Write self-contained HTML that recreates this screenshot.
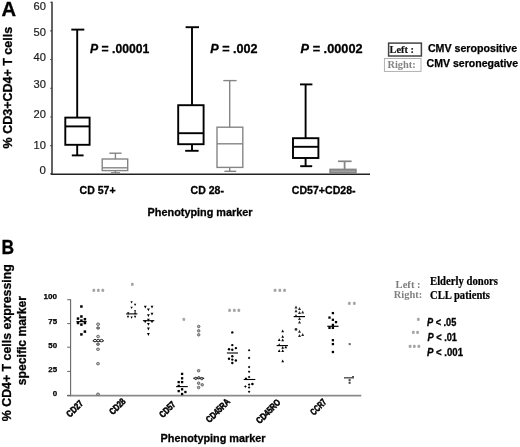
<!DOCTYPE html>
<html lang="en"><head><meta charset="utf-8"><title>Figure</title>
<style>
html,body{margin:0;padding:0;background:#fff;}
body{width:520px;height:447px;overflow:hidden;}
svg{display:block;}
</style></head><body>
<svg width="520" height="447" viewBox="0 0 520 447">
<rect x="0" y="0" width="520" height="447" fill="#fff"/>
<text x="1.6" y="15.6" font-family='"Liberation Sans", Arial, Helvetica, sans-serif' font-size="19.5" font-weight="bold" fill="#000" text-anchor="start" textLength="14.6" lengthAdjust="spacingAndGlyphs" stroke="#000" stroke-width="0.3">A</text>
<line x1="52" y1="1.8" x2="52" y2="174.8" stroke="#3c3c3c" stroke-width="1.6" stroke-linecap="butt"/>
<line x1="50.8" y1="174.25" x2="370" y2="174.25" stroke="#222" stroke-width="1.3" stroke-linecap="butt"/>
<line x1="50.3" y1="2.3" x2="52" y2="2.3" stroke="#3c3c3c" stroke-width="1.1" stroke-linecap="butt"/>
<text x="45.9" y="10.3" font-family='"Liberation Sans", Arial, Helvetica, sans-serif' font-size="11.2" font-weight="normal" fill="#1c1c1c" text-anchor="end" textLength="12.4" lengthAdjust="spacingAndGlyphs" stroke="#1c1c1c" stroke-width="0.2">60</text>
<line x1="50.3" y1="30.9" x2="52" y2="30.9" stroke="#3c3c3c" stroke-width="1.1" stroke-linecap="butt"/>
<text x="45.9" y="35.9" font-family='"Liberation Sans", Arial, Helvetica, sans-serif' font-size="11.2" font-weight="normal" fill="#1c1c1c" text-anchor="end" textLength="12.4" lengthAdjust="spacingAndGlyphs" stroke="#1c1c1c" stroke-width="0.2">50</text>
<line x1="50.3" y1="59.5" x2="52" y2="59.5" stroke="#3c3c3c" stroke-width="1.1" stroke-linecap="butt"/>
<text x="45.9" y="60.9" font-family='"Liberation Sans", Arial, Helvetica, sans-serif' font-size="11.2" font-weight="normal" fill="#1c1c1c" text-anchor="end" textLength="12.4" lengthAdjust="spacingAndGlyphs" stroke="#1c1c1c" stroke-width="0.2">40</text>
<line x1="50.3" y1="88.2" x2="52" y2="88.2" stroke="#3c3c3c" stroke-width="1.1" stroke-linecap="butt"/>
<text x="45.9" y="87.7" font-family='"Liberation Sans", Arial, Helvetica, sans-serif' font-size="11.2" font-weight="normal" fill="#1c1c1c" text-anchor="end" textLength="12.4" lengthAdjust="spacingAndGlyphs" stroke="#1c1c1c" stroke-width="0.2">30</text>
<line x1="50.3" y1="117" x2="52" y2="117" stroke="#3c3c3c" stroke-width="1.1" stroke-linecap="butt"/>
<text x="45.9" y="118.2" font-family='"Liberation Sans", Arial, Helvetica, sans-serif' font-size="11.2" font-weight="normal" fill="#1c1c1c" text-anchor="end" textLength="12.4" lengthAdjust="spacingAndGlyphs" stroke="#1c1c1c" stroke-width="0.2">20</text>
<line x1="50.3" y1="145.6" x2="52" y2="145.6" stroke="#3c3c3c" stroke-width="1.1" stroke-linecap="butt"/>
<text x="45.9" y="148.5" font-family='"Liberation Sans", Arial, Helvetica, sans-serif' font-size="11.2" font-weight="normal" fill="#1c1c1c" text-anchor="end" textLength="12.4" lengthAdjust="spacingAndGlyphs" stroke="#1c1c1c" stroke-width="0.2">10</text>
<line x1="50.3" y1="173.8" x2="52" y2="173.8" stroke="#3c3c3c" stroke-width="1.1" stroke-linecap="butt"/>
<text x="45.9" y="173.9" font-family='"Liberation Sans", Arial, Helvetica, sans-serif' font-size="11.2" font-weight="normal" fill="#1c1c1c" text-anchor="end" textLength="6.4" lengthAdjust="spacingAndGlyphs" stroke="#1c1c1c" stroke-width="0.2">0</text>
<text transform="translate(12.3,148.4) rotate(-90)" font-family='"Liberation Sans", Arial, Helvetica, sans-serif' font-size="13.4" font-weight="bold" stroke="#000" stroke-width="0.3" textLength="121.5" lengthAdjust="spacingAndGlyphs">% CD3+CD4+ T cells</text>
<rect x="65.3" y="117.6" width="24.299999999999997" height="27.200000000000017" stroke="#000" stroke-width="1.9" fill="none"/>
<line x1="65.3" y1="126.4" x2="89.6" y2="126.4" stroke="#000" stroke-width="1.9" stroke-linecap="butt"/>
<line x1="77.2" y1="29.6" x2="77.2" y2="117.6" stroke="#000" stroke-width="1.9" stroke-linecap="butt"/>
<line x1="77.2" y1="144.8" x2="77.2" y2="155.4" stroke="#000" stroke-width="1.9" stroke-linecap="butt"/>
<line x1="71.3" y1="29.6" x2="84.3" y2="29.6" stroke="#000" stroke-width="1.9" stroke-linecap="butt"/>
<line x1="71.8" y1="155.4" x2="83.6" y2="155.4" stroke="#000" stroke-width="1.9" stroke-linecap="butt"/>
<rect x="102.2" y="159" width="25.5" height="11.599999999999994" stroke="#858585" stroke-width="1.4" fill="none"/>
<line x1="102.2" y1="167.8" x2="127.7" y2="167.8" stroke="#858585" stroke-width="1.4" stroke-linecap="butt"/>
<line x1="115.4" y1="153.2" x2="115.4" y2="159" stroke="#858585" stroke-width="1.4" stroke-linecap="butt"/>
<line x1="115.4" y1="170.6" x2="115.4" y2="172.8" stroke="#858585" stroke-width="1.4" stroke-linecap="butt"/>
<line x1="109.3" y1="153.2" x2="121.6" y2="153.2" stroke="#858585" stroke-width="1.4" stroke-linecap="butt"/>
<line x1="111" y1="172.8" x2="120" y2="172.8" stroke="#858585" stroke-width="1.4" stroke-linecap="butt"/>
<rect x="178.2" y="105.2" width="25.400000000000006" height="38.999999999999986" stroke="#000" stroke-width="1.9" fill="none"/>
<line x1="178.2" y1="133.2" x2="203.6" y2="133.2" stroke="#000" stroke-width="1.9" stroke-linecap="butt"/>
<line x1="192" y1="27.2" x2="192" y2="105.2" stroke="#000" stroke-width="1.9" stroke-linecap="butt"/>
<line x1="192" y1="144.2" x2="192" y2="150.8" stroke="#000" stroke-width="1.9" stroke-linecap="butt"/>
<line x1="185.6" y1="27.2" x2="199" y2="27.2" stroke="#000" stroke-width="1.9" stroke-linecap="butt"/>
<line x1="185.2" y1="150.8" x2="198.6" y2="150.8" stroke="#000" stroke-width="1.9" stroke-linecap="butt"/>
<rect x="217" y="127.2" width="25.80000000000001" height="40.2" stroke="#858585" stroke-width="1.4" fill="none"/>
<line x1="217" y1="143.8" x2="242.8" y2="143.8" stroke="#858585" stroke-width="1.4" stroke-linecap="butt"/>
<line x1="229.7" y1="80.6" x2="229.7" y2="127.2" stroke="#858585" stroke-width="1.4" stroke-linecap="butt"/>
<line x1="229.7" y1="167.4" x2="229.7" y2="171.3" stroke="#858585" stroke-width="1.4" stroke-linecap="butt"/>
<line x1="223.3" y1="80.6" x2="236.6" y2="80.6" stroke="#858585" stroke-width="1.4" stroke-linecap="butt"/>
<line x1="224.4" y1="171.3" x2="236.2" y2="171.3" stroke="#858585" stroke-width="1.4" stroke-linecap="butt"/>
<rect x="293" y="138.2" width="25.399999999999977" height="19.80000000000001" stroke="#000" stroke-width="1.9" fill="none"/>
<line x1="293" y1="146.8" x2="318.4" y2="146.8" stroke="#000" stroke-width="1.9" stroke-linecap="butt"/>
<line x1="305.6" y1="84.4" x2="305.6" y2="138.2" stroke="#000" stroke-width="1.9" stroke-linecap="butt"/>
<line x1="305.6" y1="158" x2="305.6" y2="166.2" stroke="#000" stroke-width="1.9" stroke-linecap="butt"/>
<line x1="300" y1="84.4" x2="312.4" y2="84.4" stroke="#000" stroke-width="1.9" stroke-linecap="butt"/>
<line x1="300.2" y1="166.2" x2="312.2" y2="166.2" stroke="#000" stroke-width="1.9" stroke-linecap="butt"/>
<rect x="329.3" y="168.6" width="27.4" height="5.4" fill="#858585"/>
<line x1="331" y1="171.2" x2="355" y2="171.2" stroke="#b5b5b5" stroke-width="0.9" stroke-linecap="butt"/>
<line x1="344.6" y1="161.3" x2="344.6" y2="169" stroke="#858585" stroke-width="1.8" stroke-linecap="butt"/>
<line x1="338" y1="161.3" x2="351.6" y2="161.3" stroke="#858585" stroke-width="1.7" stroke-linecap="butt"/>
<text x="90" y="52.6" font-family='"Liberation Sans", Arial, Helvetica, sans-serif' font-size="12.6" font-weight="bold" stroke="#000" stroke-width="0.3" textLength="59.3" lengthAdjust="spacingAndGlyphs"><tspan font-style="italic">P</tspan> = .00001</text>
<text x="210.2" y="52.6" font-family='"Liberation Sans", Arial, Helvetica, sans-serif' font-size="12.6" font-weight="bold" stroke="#000" stroke-width="0.3" textLength="47.4" lengthAdjust="spacingAndGlyphs"><tspan font-style="italic">P</tspan> = .002</text>
<text x="300.6" y="52.6" font-family='"Liberation Sans", Arial, Helvetica, sans-serif' font-size="12.6" font-weight="bold" stroke="#000" stroke-width="0.3" textLength="62" lengthAdjust="spacingAndGlyphs"><tspan font-style="italic">P</tspan> =  .00002</text>
<text x="79.6" y="193.9" font-family='"Liberation Sans", Arial, Helvetica, sans-serif' font-size="11.2" font-weight="bold" fill="#000" text-anchor="start" textLength="36" lengthAdjust="spacingAndGlyphs" stroke="#000" stroke-width="0.3">CD 57+</text>
<text x="190.6" y="193.9" font-family='"Liberation Sans", Arial, Helvetica, sans-serif' font-size="11.2" font-weight="bold" fill="#000" text-anchor="start" textLength="33.4" lengthAdjust="spacingAndGlyphs" stroke="#000" stroke-width="0.3">CD 28-</text>
<text x="291.8" y="193.9" font-family='"Liberation Sans", Arial, Helvetica, sans-serif' font-size="11.2" font-weight="bold" fill="#000" text-anchor="start" textLength="63.8" lengthAdjust="spacingAndGlyphs" stroke="#000" stroke-width="0.3">CD57+CD28-</text>
<text x="147.6" y="215.6" font-family='"Liberation Sans", Arial, Helvetica, sans-serif' font-size="11.2" font-weight="bold" fill="#000" text-anchor="start" textLength="105" lengthAdjust="spacingAndGlyphs" stroke="#000" stroke-width="0.3">Phenotyping marker</text>
<rect x="388.6" y="43.1" width="32.8" height="12.9" stroke="#444" stroke-width="1.5" fill="none"/>
<text x="389.6" y="53.3" font-family='"Liberation Serif", "Times New Roman", serif' font-size="10.5" font-weight="bold" fill="#111" text-anchor="start" textLength="24.4" lengthAdjust="spacingAndGlyphs" stroke="#111" stroke-width="0.2">Left :</text>
<rect x="384.4" y="58.5" width="36.6" height="12.9" stroke="#aaa" stroke-width="0.9" fill="none"/>
<text x="387.4" y="68.3" font-family='"Liberation Serif", "Times New Roman", serif' font-size="10.5" font-weight="bold" fill="#838383" text-anchor="start" textLength="28.4" lengthAdjust="spacingAndGlyphs">Right:</text>
<text x="427.9" y="51.7" font-family='"Liberation Sans", Arial, Helvetica, sans-serif' font-size="10.9" font-weight="bold" fill="#000" text-anchor="start" textLength="89.3" lengthAdjust="spacingAndGlyphs" stroke="#000" stroke-width="0.25">CMV seropositive</text>
<text x="426.6" y="66.8" font-family='"Liberation Sans", Arial, Helvetica, sans-serif' font-size="10.9" font-weight="bold" fill="#000" text-anchor="start" textLength="91.5" lengthAdjust="spacingAndGlyphs" stroke="#000" stroke-width="0.25">CMV seronegative</text>
<text x="1.5" y="253.6" font-family='"Liberation Sans", Arial, Helvetica, sans-serif' font-size="19.5" font-weight="bold" fill="#000" text-anchor="start" textLength="12.6" lengthAdjust="spacingAndGlyphs" stroke="#000" stroke-width="0.3">B</text>
<line x1="70.6" y1="299.2" x2="70.6" y2="396.2" stroke="#666" stroke-width="1.1" stroke-linecap="butt"/>
<line x1="67.2" y1="395.7" x2="361.3" y2="395.7" stroke="#8a8a8a" stroke-width="1.8" stroke-linecap="butt"/>
<line x1="67.2" y1="299.7" x2="70.6" y2="299.7" stroke="#666" stroke-width="1.0" stroke-linecap="butt"/>
<text x="57.1" y="299.3" font-family='"Liberation Sans", Arial, Helvetica, sans-serif' font-size="8" font-weight="bold" fill="#000" text-anchor="end" textLength="13.5" lengthAdjust="spacingAndGlyphs" stroke="#000" stroke-width="0.25">100</text>
<line x1="67.2" y1="323.6" x2="70.6" y2="323.6" stroke="#666" stroke-width="1.0" stroke-linecap="butt"/>
<text x="57.1" y="323.6" font-family='"Liberation Sans", Arial, Helvetica, sans-serif' font-size="8" font-weight="bold" fill="#000" text-anchor="end" textLength="8.8" lengthAdjust="spacingAndGlyphs" stroke="#000" stroke-width="0.25">75</text>
<line x1="67.2" y1="347.2" x2="70.6" y2="347.2" stroke="#666" stroke-width="1.0" stroke-linecap="butt"/>
<text x="57.1" y="348.3" font-family='"Liberation Sans", Arial, Helvetica, sans-serif' font-size="8" font-weight="bold" fill="#000" text-anchor="end" textLength="8.8" lengthAdjust="spacingAndGlyphs" stroke="#000" stroke-width="0.25">50</text>
<line x1="67.2" y1="371.4" x2="70.6" y2="371.4" stroke="#666" stroke-width="1.0" stroke-linecap="butt"/>
<text x="57.1" y="371.9" font-family='"Liberation Sans", Arial, Helvetica, sans-serif' font-size="8" font-weight="bold" fill="#000" text-anchor="end" textLength="8.8" lengthAdjust="spacingAndGlyphs" stroke="#000" stroke-width="0.25">25</text>
<line x1="67.2" y1="395.5" x2="70.6" y2="395.5" stroke="#666" stroke-width="1.0" stroke-linecap="butt"/>
<text x="57.1" y="396" font-family='"Liberation Sans", Arial, Helvetica, sans-serif' font-size="8" font-weight="bold" fill="#000" text-anchor="end" textLength="4.4" lengthAdjust="spacingAndGlyphs" stroke="#000" stroke-width="0.25">0</text>
<text transform="translate(10.6,421.2) rotate(-90)" font-family='"Liberation Sans", Arial, Helvetica, sans-serif' font-size="12.2" font-weight="bold" stroke="#000" stroke-width="0.3" textLength="157" lengthAdjust="spacingAndGlyphs">% CD4+ T cells expressing</text>
<text transform="translate(25.8,385.2) rotate(-90)" font-family='"Liberation Sans", Arial, Helvetica, sans-serif' font-size="12.2" font-weight="bold" stroke="#000" stroke-width="0.3" textLength="89.2" lengthAdjust="spacingAndGlyphs">specific marker</text>
<rect x="80.15" y="305.25" width="2.5" height="2.5" fill="#000"/>
<rect x="80.15" y="315.25" width="2.5" height="2.5" fill="#000"/>
<rect x="76.75" y="317.35" width="2.5" height="2.5" fill="#000"/>
<rect x="83.65" y="317.95" width="2.5" height="2.5" fill="#000"/>
<rect x="80.15" y="319.35" width="2.5" height="2.5" fill="#000"/>
<rect x="76.75" y="321.75" width="2.5" height="2.5" fill="#000"/>
<rect x="83.65" y="321.75" width="2.5" height="2.5" fill="#000"/>
<rect x="80.15" y="323.35" width="2.5" height="2.5" fill="#000"/>
<rect x="83.65" y="330.35" width="2.5" height="2.5" fill="#000"/>
<rect x="80.15" y="333.15" width="2.5" height="2.5" fill="#000"/>
<line x1="76.4" y1="321.6" x2="86.6" y2="321.6" stroke="#000" stroke-width="1.1" stroke-linecap="butt"/>
<text x="92.48 96.88 101.48" y="294.24" font-family='"Liberation Sans", Arial, Helvetica, sans-serif' font-size="6.8" font-weight="bold" fill="#9a9a9a" stroke="#9a9a9a" stroke-width="0.4">***</text>
<ellipse cx="98.1" cy="324.2" rx="1.51" ry="1.22" fill="#c4c4c4" stroke="#5c5c5c" stroke-width="0.85"/>
<ellipse cx="98.1" cy="336.5" rx="1.51" ry="1.22" fill="#c4c4c4" stroke="#5c5c5c" stroke-width="0.85"/>
<ellipse cx="98" cy="349.3" rx="1.51" ry="1.22" fill="#c4c4c4" stroke="#5c5c5c" stroke-width="0.85"/>
<ellipse cx="98" cy="363.7" rx="1.51" ry="1.22" fill="#c4c4c4" stroke="#5c5c5c" stroke-width="0.85"/>
<ellipse cx="98" cy="394.2" rx="1.51" ry="1.22" fill="#c4c4c4" stroke="#5c5c5c" stroke-width="0.85"/>
<ellipse cx="98.1" cy="328" rx="1.51" ry="1.22" fill="#8a8a8a" stroke="#5c5c5c" stroke-width="0.85"/>
<ellipse cx="98" cy="344.2" rx="1.51" ry="1.22" fill="#8a8a8a" stroke="#5c5c5c" stroke-width="0.85"/>
<line x1="92.8" y1="340.8" x2="103.6" y2="340.8" stroke="#000" stroke-width="1.3" stroke-linecap="butt"/>
<ellipse cx="95" cy="340.6" rx="1.51" ry="1.22" fill="#fff" stroke="#000" stroke-width="0.85"/>
<ellipse cx="98.2" cy="340.6" rx="1.51" ry="1.22" fill="#fff" stroke="#000" stroke-width="0.85"/>
<ellipse cx="101.5" cy="340.6" rx="1.51" ry="1.22" fill="#fff" stroke="#000" stroke-width="0.85"/>
<text x="131.08" y="288.34" font-family='"Liberation Sans", Arial, Helvetica, sans-serif' font-size="6.8" font-weight="bold" fill="#9c9c9c" stroke="#9c9c9c" stroke-width="0.4">*</text>
<polygon points="130.45,301.25 132.75,301.25 131.60,303.55" fill="#000"/>
<polygon points="133.95,303.65 136.25,303.65 135.10,305.95" fill="#000"/>
<polygon points="130.45,306.75 132.75,306.75 131.60,309.05" fill="#000"/>
<polygon points="133.95,310.15 136.25,310.15 135.10,312.45" fill="#000"/>
<polygon points="127.05,312.25 129.35,312.25 128.20,314.55" fill="#000"/>
<polygon points="133.95,312.45 136.25,312.45 135.10,314.75" fill="#000"/>
<polygon points="126.85,315.85 129.15,315.85 128.00,318.15" fill="#000"/>
<polygon points="130.45,316.45 132.75,316.45 131.60,318.75" fill="#000"/>
<polygon points="133.95,315.85 136.25,315.85 135.10,318.15" fill="#000"/>
<line x1="126.1" y1="313.9" x2="137.4" y2="313.9" stroke="#000" stroke-width="1.1" stroke-linecap="butt"/>
<polygon points="143.90,305.70 146.70,305.70 145.30,308.50" fill="#000"/>
<polygon points="150.60,305.70 153.40,305.70 152.00,308.50" fill="#000"/>
<polygon points="147.00,308.40 149.80,308.40 148.40,311.20" fill="#000"/>
<polygon points="150.60,312.80 153.40,312.80 152.00,315.60" fill="#000"/>
<polygon points="147.00,314.30 149.80,314.30 148.40,317.10" fill="#000"/>
<polygon points="143.80,320.40 146.60,320.40 145.20,323.20" fill="#000"/>
<polygon points="147.00,318.80 149.80,318.80 148.40,321.60" fill="#000"/>
<polygon points="150.60,320.40 153.40,320.40 152.00,323.20" fill="#000"/>
<polygon points="147.00,322.90 149.80,322.90 148.40,325.70" fill="#000"/>
<polygon points="147.00,327.60 149.80,327.60 148.40,330.40" fill="#000"/>
<polygon points="147.00,333.10 149.80,333.10 148.40,335.90" fill="#000"/>
<line x1="142.9" y1="320.7" x2="154.3" y2="320.7" stroke="#000" stroke-width="1.1" stroke-linecap="butt"/>
<text x="182.48" y="322.94" font-family='"Liberation Sans", Arial, Helvetica, sans-serif' font-size="6.8" font-weight="bold" fill="#9c9c9c" stroke="#9c9c9c" stroke-width="0.4">*</text>
<rect x="180.95" y="372.75" width="2.3" height="2.3" fill="#000"/>
<rect x="180.95" y="377.15" width="2.3" height="2.3" fill="#000"/>
<rect x="177.55" y="380.95" width="2.3" height="2.3" fill="#000"/>
<rect x="180.95" y="380.95" width="2.3" height="2.3" fill="#000"/>
<rect x="177.55" y="384.75" width="2.3" height="2.3" fill="#000"/>
<rect x="180.95" y="388.15" width="2.3" height="2.3" fill="#000"/>
<rect x="177.55" y="389.95" width="2.3" height="2.3" fill="#000"/>
<rect x="184.25" y="390.85" width="2.3" height="2.3" fill="#000"/>
<rect x="180.95" y="392.85" width="2.3" height="2.3" fill="#000"/>
<line x1="176.1" y1="386.6" x2="187.8" y2="386.6" stroke="#000" stroke-width="1.1" stroke-linecap="butt"/>
<ellipse cx="198.7" cy="326.5" rx="1.25" ry="1.25" fill="#b4b4b4" stroke="#585858" stroke-width="0.9"/>
<ellipse cx="198.7" cy="330.8" rx="1.25" ry="1.25" fill="#b4b4b4" stroke="#585858" stroke-width="0.9"/>
<ellipse cx="198.7" cy="334.8" rx="1.25" ry="1.25" fill="#b4b4b4" stroke="#585858" stroke-width="0.9"/>
<ellipse cx="198.6" cy="370.7" rx="1.25" ry="1.25" fill="#b4b4b4" stroke="#585858" stroke-width="0.9"/>
<ellipse cx="198.6" cy="383.2" rx="1.25" ry="1.25" fill="#b4b4b4" stroke="#585858" stroke-width="0.9"/>
<ellipse cx="202.2" cy="384.8" rx="1.25" ry="1.25" fill="#b4b4b4" stroke="#585858" stroke-width="0.9"/>
<ellipse cx="198.6" cy="387.5" rx="1.25" ry="1.25" fill="#b4b4b4" stroke="#585858" stroke-width="0.9"/>
<line x1="193.3" y1="378.3" x2="204.2" y2="378.3" stroke="#000" stroke-width="1.2" stroke-linecap="butt"/>
<ellipse cx="195.8" cy="378.4" rx="1.20" ry="1.20" fill="#bbb" stroke="#222" stroke-width="0.9"/>
<ellipse cx="198.8" cy="377.8" rx="1.20" ry="1.20" fill="#bbb" stroke="#222" stroke-width="0.9"/>
<ellipse cx="201.8" cy="378.6" rx="1.20" ry="1.20" fill="#bbb" stroke="#222" stroke-width="0.9"/>
<text x="228.28 232.88 237.58" y="313.94" font-family='"Liberation Sans", Arial, Helvetica, sans-serif' font-size="6.8" font-weight="bold" fill="#9a9a9a" stroke="#9a9a9a" stroke-width="0.4">***</text>
<circle cx="232.3" cy="332.4" r="1.2" fill="#000"/>
<circle cx="232.3" cy="345.1" r="1.2" fill="#000"/>
<circle cx="235.9" cy="348.1" r="1.2" fill="#000"/>
<circle cx="229" cy="349.2" r="1.2" fill="#000"/>
<circle cx="232.3" cy="349.8" r="1.2" fill="#000"/>
<circle cx="232.3" cy="356.2" r="1.2" fill="#000"/>
<circle cx="229" cy="358.8" r="1.2" fill="#000"/>
<circle cx="232.3" cy="359.6" r="1.2" fill="#000"/>
<circle cx="235.9" cy="360.5" r="1.2" fill="#000"/>
<circle cx="232.3" cy="363" r="1.2" fill="#000"/>
<line x1="226.9" y1="353" x2="238" y2="353" stroke="#000" stroke-width="1.1" stroke-linecap="butt"/>
<polygon points="247.80,350.30 249.10,349.00 250.40,350.30 249.10,351.60" fill="#000"/>
<polygon points="247.80,357.90 249.10,356.60 250.40,357.90 249.10,359.20" fill="#000"/>
<polygon points="247.80,367.00 249.10,365.70 250.40,367.00 249.10,368.30" fill="#000"/>
<polygon points="247.80,371.70 249.10,370.40 250.40,371.70 249.10,373.00" fill="#000"/>
<polygon points="247.80,377.00 249.10,375.70 250.40,377.00 249.10,378.30" fill="#000"/>
<polygon points="244.70,378.60 246.00,377.30 247.30,378.60 246.00,379.90" fill="#000"/>
<polygon points="244.10,386.50 245.40,385.20 246.70,386.50 245.40,387.80" fill="#000"/>
<polygon points="247.80,384.60 249.10,383.30 250.40,384.60 249.10,385.90" fill="#000"/>
<polygon points="247.80,387.50 249.10,386.20 250.40,387.50 249.10,388.80" fill="#000"/>
<polygon points="247.80,391.80 249.10,390.50 250.40,391.80 249.10,393.10" fill="#000"/>
<circle cx="252.4" cy="384" r="1.3" fill="#000"/>
<line x1="243.7" y1="379.5" x2="255.3" y2="379.5" stroke="#000" stroke-width="1.1" stroke-linecap="butt"/>
<text x="273.78 278.48 283.28" y="293.94" font-family='"Liberation Sans", Arial, Helvetica, sans-serif' font-size="6.8" font-weight="bold" fill="#9a9a9a" stroke="#9a9a9a" stroke-width="0.4">***</text>
<polygon points="281.35,332.15 284.05,332.15 282.70,329.45" fill="#000"/>
<polygon points="281.35,337.75 284.05,337.75 282.70,335.05" fill="#000"/>
<polygon points="277.85,340.95 280.55,340.95 279.20,338.25" fill="#000"/>
<polygon points="281.35,341.15 284.05,341.15 282.70,338.45" fill="#000"/>
<polygon points="277.85,345.95 280.55,345.95 279.20,343.25" fill="#000"/>
<polygon points="281.35,348.65 284.05,348.65 282.70,345.95" fill="#000"/>
<polygon points="284.45,348.15 287.15,348.15 285.80,345.45" fill="#000"/>
<polygon points="277.85,352.05 280.55,352.05 279.20,349.35" fill="#000"/>
<polygon points="281.35,352.05 284.05,352.05 282.70,349.35" fill="#000"/>
<polygon points="281.35,362.15 284.05,362.15 282.70,359.45" fill="#000"/>
<line x1="276.6" y1="345.6" x2="288" y2="345.6" stroke="#000" stroke-width="1.1" stroke-linecap="butt"/>
<polygon points="294.50,308.50 297.50,308.50 296.00,305.50" fill="#2a2a2a"/>
<polygon points="298.00,310.00 301.00,310.00 299.50,307.00" fill="#2a2a2a"/>
<polygon points="294.50,312.20 297.50,312.20 296.00,309.20" fill="#2a2a2a"/>
<polygon points="298.00,314.10 301.00,314.10 299.50,311.10" fill="#2a2a2a"/>
<polygon points="301.20,313.40 304.20,313.40 302.70,310.40" fill="#2a2a2a"/>
<polygon points="294.50,317.10 297.50,317.10 296.00,314.10" fill="#2a2a2a"/>
<polygon points="298.00,319.90 301.00,319.90 299.50,316.90" fill="#2a2a2a"/>
<polygon points="298.00,323.40 301.00,323.40 299.50,320.40" fill="#2a2a2a"/>
<polygon points="298.00,332.70 301.00,332.70 299.50,329.70" fill="#2a2a2a"/>
<polygon points="301.20,336.00 304.20,336.00 302.70,333.00" fill="#2a2a2a"/>
<polygon points="298.00,337.10 301.00,337.10 299.50,334.10" fill="#2a2a2a"/>
<circle cx="296" cy="329.4" r="1.4" fill="#333"/>
<line x1="293.7" y1="316.6" x2="305" y2="316.6" stroke="#000" stroke-width="1.2" stroke-linecap="butt"/>
<rect x="331.75" y="311.95" width="2.3" height="2.3" fill="#000"/>
<rect x="328.35" y="316.45" width="2.3" height="2.3" fill="#000"/>
<rect x="331.75" y="318.65" width="2.3" height="2.3" fill="#000"/>
<rect x="334.85" y="320.95" width="2.3" height="2.3" fill="#000"/>
<rect x="331.75" y="323.75" width="2.3" height="2.3" fill="#000"/>
<rect x="328.35" y="326.75" width="2.3" height="2.3" fill="#000"/>
<rect x="331.75" y="326.75" width="2.3" height="2.3" fill="#000"/>
<rect x="331.75" y="339.05" width="2.3" height="2.3" fill="#000"/>
<rect x="331.75" y="342.95" width="2.3" height="2.3" fill="#000"/>
<rect x="331.75" y="350.85" width="2.3" height="2.3" fill="#000"/>
<line x1="327.3" y1="326.3" x2="338.5" y2="326.3" stroke="#000" stroke-width="1.2" stroke-linecap="butt"/>
<text x="347.98 352.88" y="307.34" font-family='"Liberation Sans", Arial, Helvetica, sans-serif' font-size="6.8" font-weight="bold" fill="#9a9a9a" stroke="#9a9a9a" stroke-width="0.4">**</text>
<rect x="348.65" y="343.05" width="2.1" height="2.1" fill="#6a6a6a"/>
<line x1="344" y1="377.8" x2="354" y2="377.8" stroke="#585858" stroke-width="1.5" stroke-linecap="butt"/>
<rect x="352.00" y="376.00" width="2" height="2" fill="#555"/>
<rect x="348.60" y="379.10" width="2" height="2" fill="#444"/>
<rect x="348.60" y="381.80" width="2" height="2" fill="#444"/>
<text transform="translate(83.8,404.0) rotate(-45)" font-family='"Liberation Sans", Arial, Helvetica, sans-serif' font-size="9.3" font-weight="bold" text-anchor="end" stroke="#000" stroke-width="0.55" textLength="19.4" lengthAdjust="spacingAndGlyphs">CD27</text>
<text transform="translate(126.2,402.0) rotate(-45)" font-family='"Liberation Sans", Arial, Helvetica, sans-serif' font-size="9.3" font-weight="bold" text-anchor="end" stroke="#000" stroke-width="0.55" textLength="18.8" lengthAdjust="spacingAndGlyphs">CD28</text>
<text transform="translate(176.2,405.1) rotate(-45)" font-family='"Liberation Sans", Arial, Helvetica, sans-serif' font-size="9.3" font-weight="bold" text-anchor="end" stroke="#000" stroke-width="0.55" textLength="18.6" lengthAdjust="spacingAndGlyphs">CD57</text>
<text transform="translate(230.6,402.3) rotate(-45)" font-family='"Liberation Sans", Arial, Helvetica, sans-serif' font-size="9.3" font-weight="bold" text-anchor="end" stroke="#000" stroke-width="0.55" textLength="29.7" lengthAdjust="spacingAndGlyphs">CD45RA</text>
<text transform="translate(281.2,402.9) rotate(-45)" font-family='"Liberation Sans", Arial, Helvetica, sans-serif' font-size="9.3" font-weight="bold" text-anchor="end" stroke="#000" stroke-width="0.55" textLength="30.2" lengthAdjust="spacingAndGlyphs">CD45RO</text>
<text transform="translate(327,402.7) rotate(-45)" font-family='"Liberation Sans", Arial, Helvetica, sans-serif' font-size="9.3" font-weight="bold" text-anchor="end" stroke="#000" stroke-width="0.55" textLength="18.4" lengthAdjust="spacingAndGlyphs">CCR7</text>
<text x="160.6" y="442.3" font-family='"Liberation Sans", Arial, Helvetica, sans-serif' font-size="11.2" font-weight="bold" fill="#000" text-anchor="start" textLength="105" lengthAdjust="spacingAndGlyphs" stroke="#000" stroke-width="0.3">Phenotyping marker</text>
<text x="395.6" y="287.6" font-family='"Liberation Serif", "Times New Roman", serif' font-size="10.7" font-weight="bold" fill="#7c7c7c" text-anchor="start" textLength="25" lengthAdjust="spacingAndGlyphs">Left :</text>
<text transform="translate(393.8,298.4) scale(1,1.06)" font-family='"Liberation Serif", "Times New Roman", serif' font-size="10.5" font-weight="bold" fill="#838383" text-anchor="start" textLength="28.4" lengthAdjust="spacingAndGlyphs">Right:</text>
<text transform="translate(430,285) scale(1,1.08)" font-family='"Liberation Serif", "Times New Roman", serif' font-size="11.1" font-weight="bold" fill="#000" text-anchor="start" textLength="68" lengthAdjust="spacingAndGlyphs" stroke="#000" stroke-width="0.2">Elderly donors</text>
<text transform="translate(430,298.9) scale(1,1.08)" font-family='"Liberation Serif", "Times New Roman", serif' font-size="11.1" font-weight="bold" fill="#000" text-anchor="start" textLength="60" lengthAdjust="spacingAndGlyphs" stroke="#000" stroke-width="0.2">CLL patients</text>
<text x="416.98" y="322.54" font-family='"Liberation Sans", Arial, Helvetica, sans-serif' font-size="6.8" font-weight="bold" fill="#9a9a9a" stroke="#9a9a9a" stroke-width="0.4">*</text>
<text x="411.98 416.28" y="336.34" font-family='"Liberation Sans", Arial, Helvetica, sans-serif' font-size="6.8" font-weight="bold" fill="#9a9a9a" stroke="#9a9a9a" stroke-width="0.4">**</text>
<text x="408.68 412.98 417.38" y="350.14" font-family='"Liberation Sans", Arial, Helvetica, sans-serif' font-size="6.8" font-weight="bold" fill="#9a9a9a" stroke="#9a9a9a" stroke-width="0.4">***</text>
<text x="427" y="325.6" font-family='"Liberation Sans", Arial, Helvetica, sans-serif' font-size="10" font-weight="bold" stroke="#000" stroke-width="0.3" textLength="29.3" lengthAdjust="spacingAndGlyphs"><tspan font-style="italic">P</tspan> &lt; .05</text>
<text x="427.5" y="340.7" font-family='"Liberation Sans", Arial, Helvetica, sans-serif' font-size="10" font-weight="bold" stroke="#000" stroke-width="0.3" textLength="29.5" lengthAdjust="spacingAndGlyphs"><tspan font-style="italic">P</tspan> &lt; .01</text>
<text x="427" y="355.8" font-family='"Liberation Sans", Arial, Helvetica, sans-serif' font-size="10" font-weight="bold" stroke="#000" stroke-width="0.3" textLength="36" lengthAdjust="spacingAndGlyphs"><tspan font-style="italic">P</tspan> &lt; .001</text>
</svg>
</body></html>
